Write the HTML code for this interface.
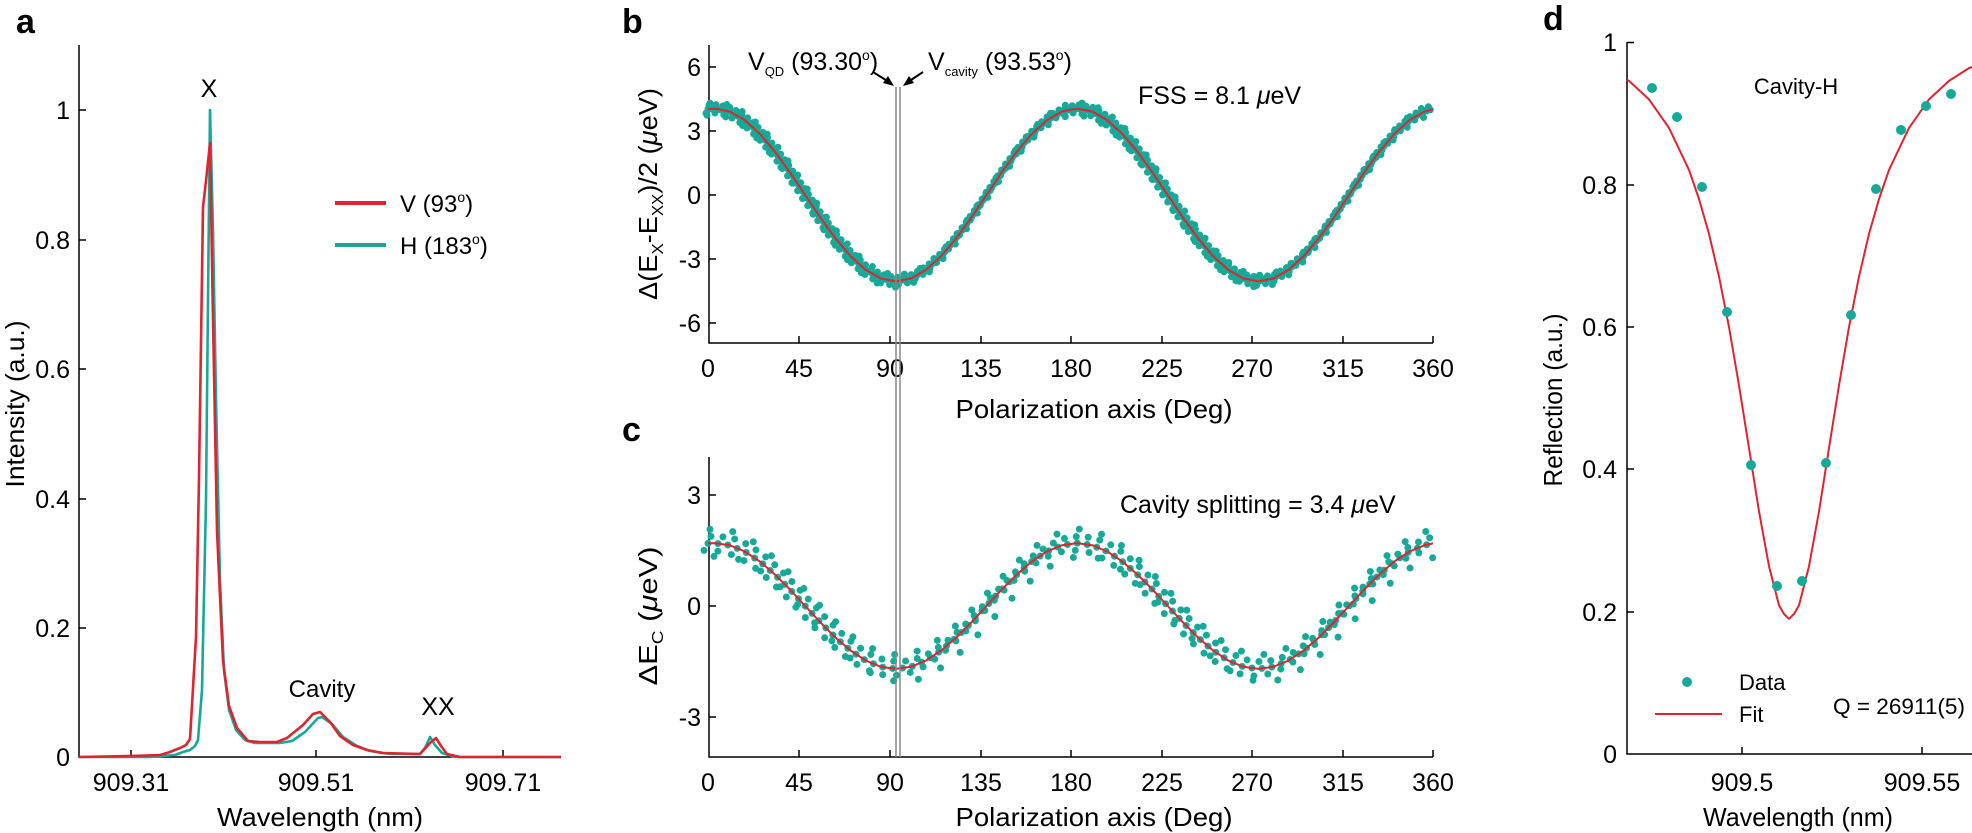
<!DOCTYPE html>
<html><head><meta charset="utf-8"><style>
html,body{margin:0;padding:0;background:#fff;}
svg{display:block;font-family:"Liberation Sans",Arial,sans-serif;}
</style></head><body>
<svg width="1972" height="833" viewBox="0 0 1972 833" xmlns="http://www.w3.org/2000/svg">
<defs>
<path id="pb" d="M708,109.2 L714.6,108.6 729.7,111.5 744.8,120.2 759.9,133.9 775,151.8 790.1,172.6 805.2,195 820.3,217.4 835.4,238.2 850.5,256.1 865.6,269.8 880.8,278.5 895.9,281.4 911,278.5 926.1,269.8 941.2,256.1 956.3,238.2 971.4,217.4 986.5,195 1001.6,172.6 1016.7,151.8 1031.8,133.9 1046.9,120.2 1062,111.5 1077.1,108.6 1092.2,111.5 1107.3,120.2 1122.4,133.9 1137.5,151.8 1152.6,172.6 1167.7,195 1182.9,217.4 1198,238.2 1213.1,256.1 1228.2,269.8 1243.3,278.5 1258.4,281.4 1273.5,278.5 1288.6,269.8 1303.7,256.1 1318.8,238.2 1333.9,217.4 1349,195 1364.1,172.6 1379.2,151.8 1394.3,133.9 1409.4,120.2 1424.5,111.5 1433,109.2"/>
<path id="pc" d="M708,543.4 L714.6,543.1 729.7,545.2 744.8,551.5 759.9,561.5 775,574.6 790.1,589.7 805.2,606 820.3,622.3 835.4,637.5 850.5,650.5 865.6,660.5 880.8,666.8 895.9,668.9 911,666.8 926.1,660.5 941.2,650.5 956.3,637.5 971.4,622.3 986.5,606 1001.6,589.7 1016.7,574.6 1031.8,561.5 1046.9,551.5 1062,545.2 1077.1,543.1 1092.2,545.2 1107.3,551.5 1122.4,561.5 1137.5,574.6 1152.6,589.7 1167.7,606 1182.9,622.3 1198,637.5 1213.1,650.5 1228.2,660.5 1243.3,666.8 1258.4,668.9 1273.5,666.8 1288.6,660.5 1303.7,650.5 1318.8,637.5 1333.9,622.3 1349,606 1364.1,589.7 1379.2,574.6 1394.3,561.5 1409.4,551.5 1424.5,545.2 1433,543.4"/>
</defs>

<!-- ===== Panel a ===== -->
<text x="16" y="33" font-size="34" font-weight="bold">a</text>
<g stroke="#000" stroke-width="1.5" fill="none">
<path d="M79,45 V757 H561"/>
<path d="M79,110 h7 M79,240 h7 M79,369 h7 M79,499 h7 M79,628 h7"/>
<path d="M131,757 v-7 M316,757 v-7 M503,757 v-7"/>
</g>
<g font-size="25" text-anchor="end">
<text x="70" y="119">1</text><text x="70" y="249">0.8</text><text x="70" y="378">0.6</text>
<text x="70" y="508">0.4</text><text x="70" y="637">0.2</text><text x="70" y="766">0</text>
</g>
<g font-size="25" text-anchor="middle">
<text x="131" y="791">909.31</text><text x="316" y="791">909.51</text><text x="503" y="791">909.71</text>
</g>
<text x="320" y="826" font-size="26" text-anchor="middle" textLength="206" lengthAdjust="spacingAndGlyphs">Wavelength (nm)</text>
<text transform="translate(24,404) rotate(-90)" font-size="26" text-anchor="middle" textLength="167" lengthAdjust="spacingAndGlyphs">Intensity (a.u.)</text>
<polyline fill="none" stroke="#17a998" stroke-width="2.6" stroke-linejoin="round" points="79,757 150,757 175,755 183,752 190,750 195,746 198,740 202,690 206,500 208,300 210,110 213,230 216,400 220,580 224,670 229,710 236,730 245,740 255,743 280,743 292,741 305,732 318,718 322,717 332,724 343,737 357,746 370,751 390,754 420,754 425,748 430,737 435,745 442,753 455,757 561,757"/>
<polyline fill="none" stroke="#dc2530" stroke-width="2.6" stroke-linejoin="round" points="79,757 130,756 160,755 170,752 180,748 186,745 190,739 196,637 199,478 203,207 206,181 210,143 213,319 217,531 223,661 229,706 237,728 248,741 260,742 277,742 287,738 303,725 313,714 320,712 330,722 340,736 353,745 367,750 383,753 420,754 430,743 436,738 441,746 447,754 460,757 561,757"/>
<text x="209" y="97" font-size="25" text-anchor="middle">X</text>
<text x="322" y="697" font-size="24" text-anchor="middle">Cavity</text>
<text x="438" y="715" font-size="25" text-anchor="middle">XX</text>
<line x1="335" y1="203" x2="386" y2="203" stroke="#dc2530" stroke-width="4"/>
<line x1="335" y1="245" x2="386" y2="245" stroke="#17a998" stroke-width="4"/>
<text x="400" y="212" font-size="24">V (93<tspan font-size="14" dy="-10">o</tspan><tspan dy="10">)</tspan></text>
<text x="400" y="254" font-size="24">H (183<tspan font-size="14" dy="-10">o</tspan><tspan dy="10">)</tspan></text>

<!-- ===== Panel b ===== -->
<text x="622" y="33" font-size="34" font-weight="bold">b</text>
<g stroke="#000" stroke-width="1.5" fill="none">
<path d="M709,45 V343 H1433"/>
<path d="M709,67 h7 M709,131 h7 M709,195 h7 M709,259 h7 M709,323 h7"/>
<path d="M799,343 v-7 M890,343 v-7 M981,343 v-7 M1071,343 v-7 M1162,343 v-7 M1252,343 v-7 M1343,343 v-7 M1433,343 v-7"/>
</g>
<g font-size="25" text-anchor="end">
<text x="701" y="76">6</text><text x="701" y="140">3</text><text x="701" y="204">0</text>
<text x="701" y="268">-3</text><text x="701" y="332">-6</text>
</g>
<g font-size="25" text-anchor="middle">
<text x="708" y="377">0</text><text x="799" y="377">45</text><text x="890" y="377">90</text><text x="981" y="377">135</text>
<text x="1071" y="377">180</text><text x="1162" y="377">225</text><text x="1252" y="377">270</text><text x="1343" y="377">315</text><text x="1433" y="377">360</text>
</g>
<text x="1094" y="418" font-size="26" text-anchor="middle" textLength="277" lengthAdjust="spacingAndGlyphs">Polarization axis (Deg)</text>
<text transform="translate(657,194) rotate(-90)" font-size="26" text-anchor="middle" textLength="212" lengthAdjust="spacingAndGlyphs">Δ(E<tspan font-size="16" dy="6">X</tspan><tspan dy="-6">-E</tspan><tspan font-size="16" dy="6">XX</tspan><tspan dy="-6">)/2 (</tspan><tspan font-style="italic">μ</tspan>eV)</text>
<g fill="none" stroke="#17a998" stroke-linecap="round" stroke-width="7">
<use href="#pb" stroke-dasharray="0 4"/>
<use href="#pb" transform="translate(1,-4)" stroke-dasharray="0 7"/>
<use href="#pb" transform="translate(-2,4)" stroke-dasharray="0 9"/>
<use href="#pb" transform="translate(2,-6)" stroke-dasharray="0 17"/>
<use href="#pb" transform="translate(-1,6)" stroke-dasharray="0 19"/>
</g>
<use href="#pb" fill="none" stroke="#dc2530" stroke-width="2"/>
<text x="1138" y="104" font-size="25">FSS = 8.1 <tspan font-style="italic">μ</tspan>eV</text>

<!-- ===== Panel c ===== -->
<text x="622" y="441" font-size="34" font-weight="bold">c</text>
<g stroke="#000" stroke-width="1.5" fill="none">
<path d="M709,457 V757 H1433"/>
<path d="M709,495 h7 M709,606 h7 M709,717 h7"/>
<path d="M799,757 v-7 M890,757 v-7 M981,757 v-7 M1071,757 v-7 M1162,757 v-7 M1252,757 v-7 M1343,757 v-7 M1433,757 v-7"/>
</g>
<g font-size="25" text-anchor="end">
<text x="701" y="504">3</text><text x="701" y="615">0</text><text x="701" y="726">-3</text>
</g>
<g font-size="25" text-anchor="middle">
<text x="708" y="791">0</text><text x="799" y="791">45</text><text x="890" y="791">90</text><text x="981" y="791">135</text>
<text x="1071" y="791">180</text><text x="1162" y="791">225</text><text x="1252" y="791">270</text><text x="1343" y="791">315</text><text x="1433" y="791">360</text>
</g>
<text x="1094" y="826" font-size="26" text-anchor="middle" textLength="277" lengthAdjust="spacingAndGlyphs">Polarization axis (Deg)</text>
<text transform="translate(657,616) rotate(-90)" font-size="26" text-anchor="middle" textLength="139" lengthAdjust="spacingAndGlyphs">ΔE<tspan font-size="16" dy="6">C</tspan><tspan dy="-6"> (</tspan><tspan font-style="italic">μ</tspan>eV)</text>
<g fill="none" stroke="#17a998" stroke-linecap="round" stroke-width="7">
<use href="#pc" stroke-dasharray="0 10"/>
<use href="#pc" transform="translate(3,-7)" stroke-dasharray="0 12"/>
<use href="#pc" transform="translate(-4,7)" stroke-dasharray="0 14"/>
<use href="#pc" transform="translate(2,-14)" stroke-dasharray="0 23"/>
<use href="#pc" transform="translate(6,13)" stroke-dasharray="0 25"/>
</g>
<use href="#pc" fill="none" stroke="#dc2530" stroke-width="2"/>
<text x="1120" y="513" font-size="25">Cavity splitting = 3.4 <tspan font-style="italic">μ</tspan>eV</text>

<!-- vertical reference lines + annotations -->
<line x1="896" y1="87" x2="896" y2="757" stroke="#888" stroke-width="1.5"/>
<line x1="900" y1="87" x2="900" y2="757" stroke="#888" stroke-width="1.5"/>
<text x="748" y="70" font-size="25">V<tspan font-size="13" dy="6">QD</tspan><tspan dy="-6"> (93.30</tspan><tspan font-size="14" dy="-10">o</tspan><tspan dy="10">)</tspan></text>
<text x="928" y="70" font-size="25">V<tspan font-size="13" dy="6">cavity</tspan><tspan dy="-6"> (93.53</tspan><tspan font-size="14" dy="-10">o</tspan><tspan dy="10">)</tspan></text>
<g stroke="#000" stroke-width="2" fill="#000">
<line x1="873" y1="72" x2="889" y2="82"/>
<polygon points="894,86 883,83 888,76" stroke="none"/>
<line x1="923" y1="72" x2="908" y2="82"/>
<polygon points="903,86 909,76 914,83" stroke="none"/>
</g>

<!-- ===== Panel d ===== -->
<text x="1543" y="30" font-size="34" font-weight="bold">d</text>
<g stroke="#000" stroke-width="1.5" fill="none">
<path d="M1627,42 V754 H1972"/>
<path d="M1627,42.5 h7 M1627,185 h7 M1627,327 h7 M1627,469 h7 M1627,612 h7"/>
<path d="M1742,754 v-7 M1922,754 v-7"/>
</g>
<g font-size="25" text-anchor="end">
<text x="1617" y="51">1</text><text x="1617" y="194">0.8</text><text x="1617" y="336">0.6</text>
<text x="1617" y="478">0.4</text><text x="1617" y="621">0.2</text><text x="1617" y="763">0</text>
</g>
<g font-size="25" text-anchor="middle">
<text x="1742" y="791">909.5</text><text x="1922" y="791">909.55</text>
</g>
<text x="1798" y="826" font-size="26" text-anchor="middle" textLength="190" lengthAdjust="spacingAndGlyphs">Wavelength (nm)</text>
<text transform="translate(1562,400) rotate(-90)" font-size="26" text-anchor="middle" textLength="173" lengthAdjust="spacingAndGlyphs">Reflection (a.u.)</text>
<polyline fill="none" stroke="#dc2530" stroke-width="2" stroke-linejoin="round" points="1627,80 1629,80.9 1649,99.4 1669,127.9 1689,169.9 1699,199 1709,233.9 1719,276.6 1729,327.1 1739,385.4 1749,448.1 1759,511.4 1769,566.2 1779,605.3 1784,614 1789,618.8 1794,614 1799,605.3 1809,566.2 1819,511.4 1829,448.1 1839,385.4 1849,327.1 1859,276.6 1869,233.9 1879,199 1889,169.9 1909,127.9 1929,99.4 1949,80.9 1969,68.1 1972,67"/>
<g fill="#17a998">
<circle cx="1652" cy="88" r="5"/><circle cx="1677" cy="117" r="5"/><circle cx="1702" cy="187" r="5"/>
<circle cx="1727" cy="312" r="5"/><circle cx="1751" cy="465" r="5"/><circle cx="1777" cy="586" r="5"/>
<circle cx="1802" cy="581" r="5"/><circle cx="1826" cy="463" r="5"/><circle cx="1851" cy="315" r="5"/>
<circle cx="1876" cy="189" r="5"/><circle cx="1901" cy="130" r="5"/><circle cx="1926" cy="106" r="5"/>
<circle cx="1951" cy="94" r="5"/>
<circle cx="1687" cy="682" r="5"/>
</g>
<text x="1796" y="94" font-size="22" text-anchor="middle">Cavity-H</text>
<line x1="1655" y1="714" x2="1722" y2="714" stroke="#dc2530" stroke-width="2"/>
<text x="1739" y="690" font-size="22">Data</text>
<text x="1739" y="722" font-size="22">Fit</text>
<text x="1833" y="714" font-size="22" textLength="132" lengthAdjust="spacingAndGlyphs">Q = 26911(5)</text>
</svg>
</body></html>
